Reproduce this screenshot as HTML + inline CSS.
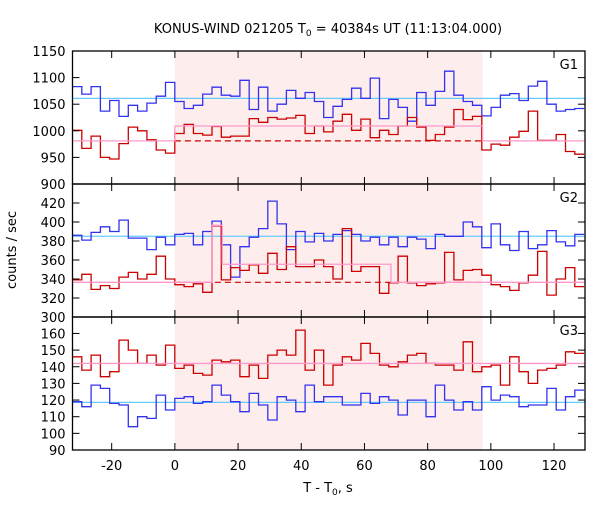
<!DOCTYPE html>
<html><head><meta charset="utf-8"><style>
body{margin:0;background:#fff;}
svg text{font-family:"DejaVu Sans","Liberation Sans",sans-serif;font-size:13px;fill:#000;}
</style></head><body>
<svg id="chart" width="600" height="500" xmlns="http://www.w3.org/2000/svg"></svg>
<script>
const binStart = -32.4;
const binWidth = 2.944;
const g1Blue = [1083,1069,1083,1037,1057,1027,1048,1037,1052,1065,1091,1055,1042,1048,1069,1082,1067,1065,1095,1040,1082,1037,1050,1076,1061,1072,1055,1025,1046,1059,1080,1061,1099,1023,1059,1044,1018,1072,1048,1074,1112,1067,1055,1048,1028,1044,1067,1070,1057,1084,1093,1050,1037,1040,1042];
const g1Red = [1001,967,990,950,947,976,1007,1000,983,964,958,995,1012,995,992,1008,988,990,990,1023,1016,1025,1022,1024,1029,995,1009,998,1018,1031,1001,1022,987,1001,993,1009,1025,1007,982,993,1007,1040,1021,1027,964,975,973,988,999,1037,982,982,993,961,956];
const g2Blue = [386,381,389,395,390,402,383,383,371,384,376,387,388,376,390,401,376,342,374,384,393,422,398,371,390,379,388,380,387,391,387,380,384,376,384,374,384,382,372,387,385,385,400,395,373,398,376,370,390,372,376,391,379,375,387];
const g2Red = [339,345,329,333,330,342,347,340,345,364,340,334,332,335,326,396,339,352,349,355,346,367,350,374,353,353,360,353,340,393,348,353,353,325,336,364,336,333,335,336,368,339,349,350,344,334,332,328,336,344,369,323,340,352,332];
const g3Red = [146,138,147,134,137,156,150,142,147,141,153,139,141,136,135,144,143,144,134,141,133,147,150,147,162,138,150,129,141,146,144,154,148,141,140,143,147,148,142,141,141,138,155,137,140,141,129,146,137,130,138,139,141,149,148];
const g3Blue = [119,116,129,127,118,117,104,110,109,123,114,121,122,118,119,129,123,119,113,124,117,108,122,120,113,129,119,122,122,117,117,124,118,122,120,111,120,120,110,129,120,114,119,114,128,120,123,122,116,117,117,127,114,122,126];
// fit levels
const g1BlueFit = 1061, g1RedBg = 981, g1RedBurst = 1009;
const g2BlueFit = 385, g2RedBg = 336.5;
const g2RedSteps = [[0,11.8,336.5],[11.8,15.0,396.5],[15.0,68.4,355.5]];
const g3BlueFit = 118.6, g3RedFit = 142;
const burstStart = 0, burstEnd = 97.4;
const xTicks = [-20,0,20,40,60,80,100,120];
const g1Ticks = [900,950,1000,1050,1100,1150];
const g2Ticks = [300,320,340,360,380,400,420];
const g3Ticks = [90,100,110,120,130,140,150,160];

const NS="http://www.w3.org/2000/svg";
const svg=document.getElementById('chart');
const L=72.5,R=585,XMIN=-32.4,XMAX=129.8;
const X=v=>L+(v-XMIN)/(XMAX-XMIN)*(R-L);
function mk(tag,attrs,parent){const e=document.createElementNS(NS,tag);for(const k in attrs)e.setAttribute(k,attrs[k]);(parent||svg).appendChild(e);return e;}

const panels=[
 {name:'g1',top:51,bot:184,min:900,max:1150,ticks:g1Ticks,blue:g1Blue,red:g1Red,label:'G1'},
 {name:'g2',top:184,bot:317,min:300,max:430,ticks:g2Ticks,blue:g2Blue,red:g2Red,label:'G2'},
 {name:'g3',top:317,bot:450,min:90,max:170,ticks:g3Ticks,blue:g3Blue,red:g3Red,label:'G3'}
];
// fix g2/g3 ranges to match pixel ticks
panels[0].Y=v=>184-(v-900)/250*133;
panels[1].Y=v=>317-(v-300)/20*19;
panels[2].Y=v=>450-(v-90)/10*16.65;

const defs=mk('defs',{});
const cp=mk('clipPath',{id:'clip'},defs);
mk('rect',{x:L,y:51,width:R-L,height:399},cp);

// shaded burst region
const sh=mk('rect',{x:X(burstStart),y:51,width:X(burstEnd)-X(burstStart),height:399,fill:'#fdeded'});



function stepPath(vals,Y){let d='';vals.forEach((v,i)=>{const x0=X(binStart+i*binWidth),x1=X(binStart+(i+1)*binWidth),y=Y(v).toFixed(1);d+=(i===0?'M':'L')+x0.toFixed(1)+','+y+'L'+x1.toFixed(1)+','+y;});return d;}

panels.forEach(p=>{
  const g=mk('g',{'clip-path':'url(#clip)'});
  
  
  const Y=p.Y;
  // fits
  const bf=mk('line',{x1:L,x2:R,y1:Y(p.name==='g1'?g1BlueFit:p.name==='g2'?g2BlueFit:g3BlueFit),y2:Y(p.name==='g1'?g1BlueFit:p.name==='g2'?g2BlueFit:g3BlueFit),stroke:'#66ccff','stroke-width':1.3},g);
  
  
  const b=mk('path',{d:stepPath(p.blue,Y),fill:'none',stroke:'#3333ee','stroke-width':1.3},g);
  
  
  const r=mk('path',{d:stepPath(p.red,Y),fill:'none',stroke:'#cc0000','stroke-width':1.3},g);
  
  
  let pinkD='';
  if(p.name==='g1'){
    pinkD=`M${L},${Y(g1RedBg)}L${X(burstStart)},${Y(g1RedBg)}L${X(burstStart)},${Y(g1RedBurst)}L${X(burstEnd)},${Y(g1RedBurst)}L${X(burstEnd)},${Y(g1RedBg)}L${R},${Y(g1RedBg)}`;
    const dl=mk('line',{x1:X(burstStart),x2:X(burstEnd),y1:Y(g1RedBg),y2:Y(g1RedBg),stroke:'#cc0000','stroke-width':1.2,'stroke-dasharray':'6,4'},g);
    
    
  } else if(p.name==='g2'){
    pinkD=`M${L},${Y(g2RedBg)}`;
    g2RedSteps.forEach(s=>{pinkD+=`L${X(s[0])},${Y(s[2])}L${X(s[1])},${Y(s[2])}`;});
    pinkD+=`L${X(68.4)},${Y(g2RedBg)}L${R},${Y(g2RedBg)}`;
    const dl=mk('line',{x1:X(burstStart),x2:X(burstEnd),y1:Y(g2RedBg),y2:Y(g2RedBg),stroke:'#cc0000','stroke-width':1.2,'stroke-dasharray':'6,4'},g);
    
    
  } else {
    pinkD=`M${L},${Y(g3RedFit)}L${R},${Y(g3RedFit)}`;
  }
  const pk=mk('path',{d:pinkD,fill:'none',stroke:'#ff99cc','stroke-width':1.3},g);
  
  

  // frame
  const fr=mk('rect',{x:L,y:p.top,width:R-L,height:p.bot-p.top,fill:'none',stroke:'#000','stroke-width':1.3});
  
  
  p.ticks.forEach(t=>{
    const y=Y(t);
    mk('line',{x1:L,x2:L+7,y1:y,y2:y,stroke:'#000','stroke-width':1});
    mk('line',{x1:R,x2:R-7,y1:y,y2:y,stroke:'#000','stroke-width':1});
    if(!(p.name!=='g1'&&t===p.ticks[p.ticks.length-1]&&false)){
      const tx=mk('text',{x:L-7,y:y+5,'text-anchor':'end'});
      tx.textContent=t;
      
      
    }
  });
  xTicks.forEach(t=>{
    const x=X(t);
    mk('line',{x1:x,x2:x,y1:p.bot,y2:p.bot-7,stroke:'#000','stroke-width':1});
    mk('line',{x1:x,x2:x,y1:p.top,y2:p.top+7,stroke:'#000','stroke-width':1});
  });
  const lb=mk('text',{x:578,y:p.top+18,'text-anchor':'end'});
  lb.textContent=p.label;
  
  
});
xTicks.forEach(t=>{
  const tx=mk('text',{x:X(t),y:470,'text-anchor':'middle'});
  tx.textContent=t;
  
  
});
</script>
<svg width="0" height="0"></svg>
<div style="position:absolute;left:0;top:0;width:600px;height:500px;pointer-events:none;">
<svg width="600" height="500" xmlns="http://www.w3.org/2000/svg" style="position:absolute;left:0;top:0">
<text x="328" y="33" text-anchor="middle" style="font-family:'DejaVu Sans','Liberation Sans',sans-serif;font-size:13px">KONUS-WIND 021205 T<tspan font-size="9" dy="3">0</tspan><tspan dy="-3"> = 40384s UT (11:13:04.000)</tspan></text>
<text transform="translate(16,250) rotate(-90)" text-anchor="middle" style="font-family:'DejaVu Sans','Liberation Sans',sans-serif;font-size:13px">counts / sec</text>
<text x="328" y="492" text-anchor="middle" style="font-family:'DejaVu Sans','Liberation Sans',sans-serif;font-size:13px">T - T<tspan font-size="9" dy="3">0</tspan><tspan dy="-3">, s</tspan></text>
</svg></div>
</body></html>
